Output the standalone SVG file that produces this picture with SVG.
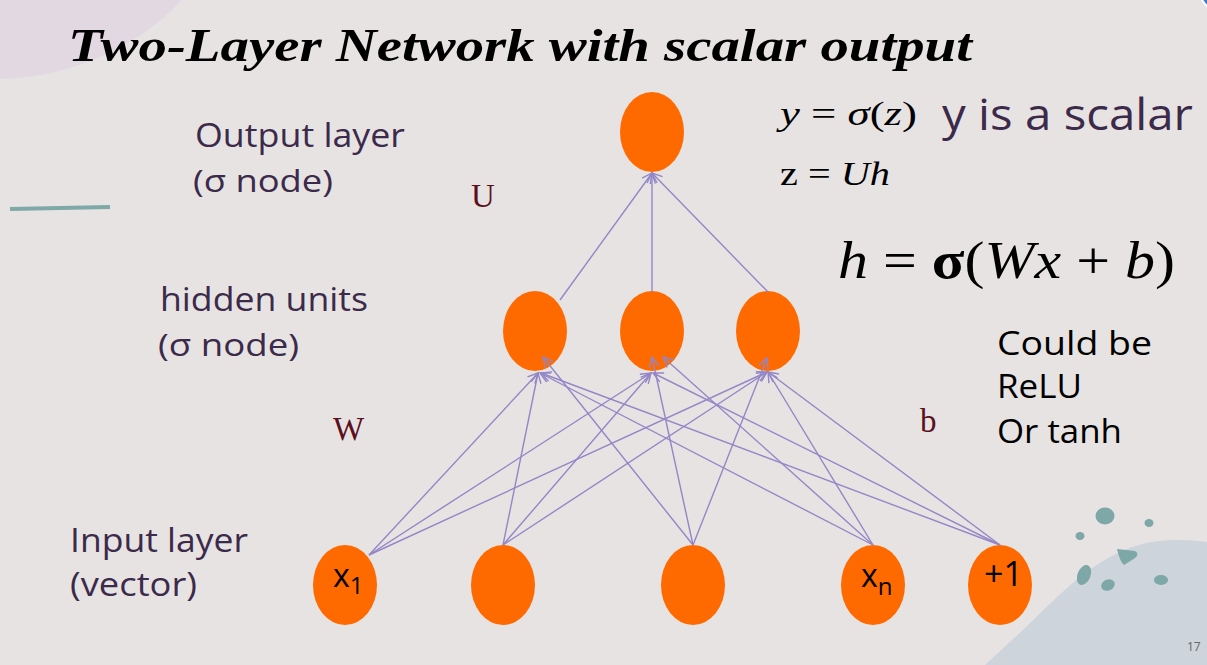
<svg xmlns="http://www.w3.org/2000/svg" width="1207" height="665" viewBox="0 0 1207 665">
  <defs>
    <marker id="arrow" viewBox="0 0 12 12" refX="11" refY="6" markerWidth="12" markerHeight="12" markerUnits="userSpaceOnUse" orient="auto">
      <path d="M1,1 L11,6 L1,11" fill="none" stroke="#9287c6" stroke-width="1.4"/>
    </marker>
    <style>
      .node { fill: #ff6a00; }
      .edge { stroke: #9287c6; stroke-width: 1.4; fill: none; marker-end: url(#arrow); }
      .label { font-family: "Open Sans", "Liberation Sans", sans-serif; fill: #3b2a4a; }
      .note { font-family: "Open Sans", "Liberation Sans", sans-serif; fill: #000; }
      .math { font-family: "Liberation Serif", serif; fill: #000; }
      .weight { font-family: "Liberation Serif", serif; fill: #5c0f1c; font-size: 33px; }
      .inode { font-family: "Open Sans", "Liberation Sans", sans-serif; fill: #000; }
      .blob { fill: #7ea7a7; }
    </style>
  </defs>

  <!-- background and decorations -->
  <rect width="1207" height="665" fill="#e8e3e3"/>
  <path d="M0,0 L0,79 C60,78 130,55 182,0 Z" fill="#e2d8e2"/>
  <circle cx="1230" cy="-16" r="32" fill="#3a7bd5" stroke="#ffffff" stroke-width="2"/>
  <path d="M10,209 L110,207" stroke="#7ea9a8" stroke-width="4" fill="none"/>
  <path d="M985,665 L1025,628 C1070,585 1110,540 1175,540 C1190,540 1200,541 1207,542 L1207,665 Z" fill="#cdd4db"/>
  <g id="specks">
    <ellipse class="blob" cx="1105" cy="516" rx="9.5" ry="8.5"/>
    <ellipse class="blob" cx="1149" cy="523" rx="4.5" ry="4"/>
    <ellipse class="blob" cx="1080" cy="536" rx="4.5" ry="4"/>
    <path class="blob" d="M1117,549 L1135,551 Q1140,554 1135,558 L1124,565 Q1120,562 1117,549 Z"/>
    <ellipse class="blob" cx="1084" cy="575" rx="6.5" ry="10.5" transform="rotate(22 1084 575)"/>
    <ellipse class="blob" cx="1108" cy="585" rx="7" ry="5.5" transform="rotate(-25 1108 585)"/>
    <ellipse class="blob" cx="1161" cy="580" rx="7" ry="5"/>
  </g>
  <text x="1187" y="651" font-family="Open Sans, Liberation Sans, sans-serif" font-size="12" fill="#666">17</text>

  <!-- title -->
  <text x="68" y="61" font-family="Liberation Serif, serif" font-weight="bold" font-style="italic" font-size="46" textLength="904" lengthAdjust="spacingAndGlyphs" fill="#000">Two-Layer Network with scalar output</text>

  <!-- layer labels -->
  <g id="labels">
    <text class="label" x="195" y="147" font-size="33" textLength="210" lengthAdjust="spacingAndGlyphs">Output layer</text>
    <text class="label" x="193" y="192" font-size="31" textLength="140" lengthAdjust="spacingAndGlyphs">(σ node)</text>
    <text class="label" x="160" y="311" font-size="33" textLength="208" lengthAdjust="spacingAndGlyphs">hidden units</text>
    <text class="label" x="158" y="356" font-size="31" textLength="141" lengthAdjust="spacingAndGlyphs">(σ node)</text>
    <text class="label" x="70" y="552" font-size="33" textLength="178" lengthAdjust="spacingAndGlyphs">Input layer</text>
    <text class="label" x="70" y="596" font-size="33" textLength="127" lengthAdjust="spacingAndGlyphs">(vector)</text>
    <text class="weight" x="471" y="207">U</text>
    <text class="weight" x="333" y="440">W</text>
    <text class="weight" x="920" y="432">b</text>
  </g>

  <!-- equations -->
  <g id="equations">
    <text class="math" x="780" y="125" font-size="33" textLength="137" lengthAdjust="spacingAndGlyphs"><tspan font-style="italic">y</tspan> = <tspan font-style="italic">σ</tspan>(<tspan font-style="italic">z</tspan>)</text>
    <text class="label" x="942" y="130" font-size="43" textLength="251" lengthAdjust="spacingAndGlyphs">y is a scalar</text>
    <text class="math" x="780" y="185" font-size="33" textLength="110" lengthAdjust="spacingAndGlyphs">z = <tspan font-style="italic">Uh</tspan></text>
    <text class="math" x="838" y="278" font-size="52" textLength="337" lengthAdjust="spacingAndGlyphs"><tspan font-style="italic">h</tspan> = <tspan font-weight="bold">σ</tspan>(<tspan font-style="italic">Wx</tspan> + <tspan font-style="italic">b</tspan>)</text>
    <text class="note" x="997" y="355" font-size="33" textLength="155" lengthAdjust="spacingAndGlyphs">Could be</text>
    <text class="note" x="997" y="398" font-size="33" textLength="85" lengthAdjust="spacingAndGlyphs">ReLU</text>
    <text class="note" x="997" y="443" font-size="33" textLength="125" lengthAdjust="spacingAndGlyphs">Or tanh</text>
  </g>

  <!-- nodes -->
  <g id="out"><ellipse class="node" cx="652" cy="132" rx="32" ry="40"/></g>
  <g id="h1"><ellipse class="node" cx="535" cy="331" rx="32" ry="40"/></g>
  <g id="h2"><ellipse class="node" cx="652" cy="331" rx="32" ry="40"/></g>
  <g id="h3"><ellipse class="node" cx="768" cy="331" rx="32" ry="40"/></g>
  <g id="x1">
    <ellipse class="node" cx="345" cy="585" rx="32" ry="40"/>
    <text class="inode" x="333" y="587" font-size="32">x<tspan font-size="24" dy="7">1</tspan></text>
  </g>
  <g id="x2"><ellipse class="node" cx="503" cy="585" rx="32" ry="40"/></g>
  <g id="x3"><ellipse class="node" cx="693" cy="585" rx="32" ry="40"/></g>
  <g id="xn">
    <ellipse class="node" cx="873" cy="585" rx="32" ry="40"/>
    <text class="inode" x="861" y="587" font-size="32">x<tspan font-size="24" dy="8">n</tspan></text>
  </g>
  <g id="bias">
    <ellipse class="node" cx="1000" cy="585" rx="32" ry="40"/>
    <text class="inode" x="984" y="586" font-size="34">+1</text>
  </g>

  <!-- connectors -->
  <g id="connectors">
    <line class="edge" x1="560" y1="300" x2="652" y2="173"/>
    <line class="edge" x1="652" y1="292" x2="652" y2="173"/>
    <line class="edge" x1="768" y1="292" x2="652" y2="173"/>

    <line class="edge" x1="369" y1="555" x2="538" y2="373"/>
    <line class="edge" x1="369" y1="555" x2="651" y2="373"/>
    <line class="edge" x1="369" y1="555" x2="767" y2="372"/>

    <line class="edge" x1="503" y1="545" x2="538" y2="373"/>
    <line class="edge" x1="503" y1="545" x2="651" y2="373"/>
    <line class="edge" x1="503" y1="545" x2="767" y2="372"/>

    <line class="edge" x1="693" y1="545" x2="543" y2="357"/>
    <line class="edge" x1="693" y1="545" x2="652" y2="357"/>
    <line class="edge" x1="693" y1="545" x2="767" y2="358"/>

    <line class="edge" x1="873" y1="545" x2="540" y2="373"/>
    <line class="edge" x1="873" y1="545" x2="663" y2="357"/>
    <line class="edge" x1="873" y1="545" x2="768" y2="372"/>

    <line class="edge" x1="1000" y1="545" x2="541" y2="373"/>
    <line class="edge" x1="1000" y1="545" x2="653" y2="373"/>
    <line class="edge" x1="1000" y1="545" x2="768" y2="372"/>
  </g>
</svg>
